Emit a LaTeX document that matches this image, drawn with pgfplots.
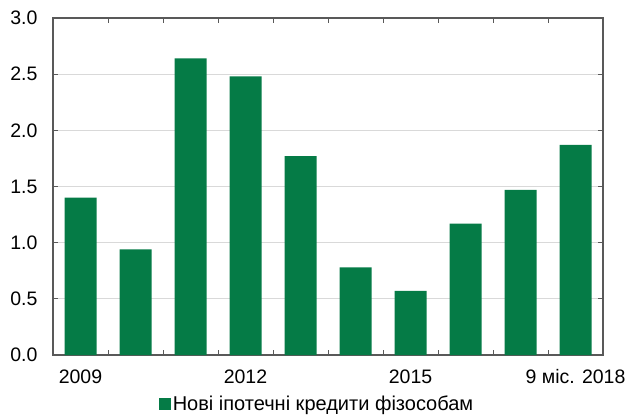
\documentclass[border=0pt]{standalone}
\usepackage{fontspec}
\setmainfont{Liberation Sans}
\usepackage{pgfplots}
\pgfplotsset{compat=1.18}
\definecolor{barg}{RGB}{5,123,70}
\definecolor{axg}{RGB}{89,89,89}
\definecolor{gridg}{RGB}{217,217,217}
\begin{document}
\begin{tikzpicture}
\path[use as bounding box] (-53pt,-62pt) rectangle (575pt,355pt);
\begin{axis}[
  at={(0,0)}, anchor=south west,
  scale only axis,
  width=550pt, height=337pt,
  ybar, bar width=32pt,
  xmin=-0.5, xmax=9.5,
  ymin=0, ymax=3,
  ytick={0,0.5,...,3},
  xtick={0,3,6,9},
  xticklabels={2009,2012,2015,9 міс. 2018},
  minor xtick={0.5,1.5,...,8.5},
  major x tick style={draw=none},
  minor tick length=5pt,
  major tick length=5pt,
  tick align=inside,
  tick style={axg, line width=1pt},
  ymajorgrids,
  grid style={gridg, line width=0.8pt},
  axis line style={axg, line width=1.3pt},
  y tick label style={/pgf/number format/fixed,
    /pgf/number format/fixed zerofill, /pgf/number format/precision=1},
  /pgf/number format/assume math mode=true,
  ticklabel style={font=\fontsize{19.5}{23}\selectfont},
  yticklabel style={xshift=-12pt},
  xticklabel style={yshift=-11pt},
  legend style={draw=none, at={(0.48,-0.145)}, anchor=center,
    font=\fontsize{20}{24}\selectfont, inner sep=0pt},
  legend image code/.code={\fill[barg] (0pt,-6pt) rectangle (12pt,6pt);},
]
\addplot[fill=barg, draw=none] coordinates {
  (0,1.40) (1,0.94) (2,2.64) (3,2.48) (4,1.77)
  (5,0.78) (6,0.57) (7,1.17) (8,1.47) (9,1.87)
};
\addlegendentry{Нові іпотечні кредити фізособам}
\end{axis}
\end{tikzpicture}
\end{document}
